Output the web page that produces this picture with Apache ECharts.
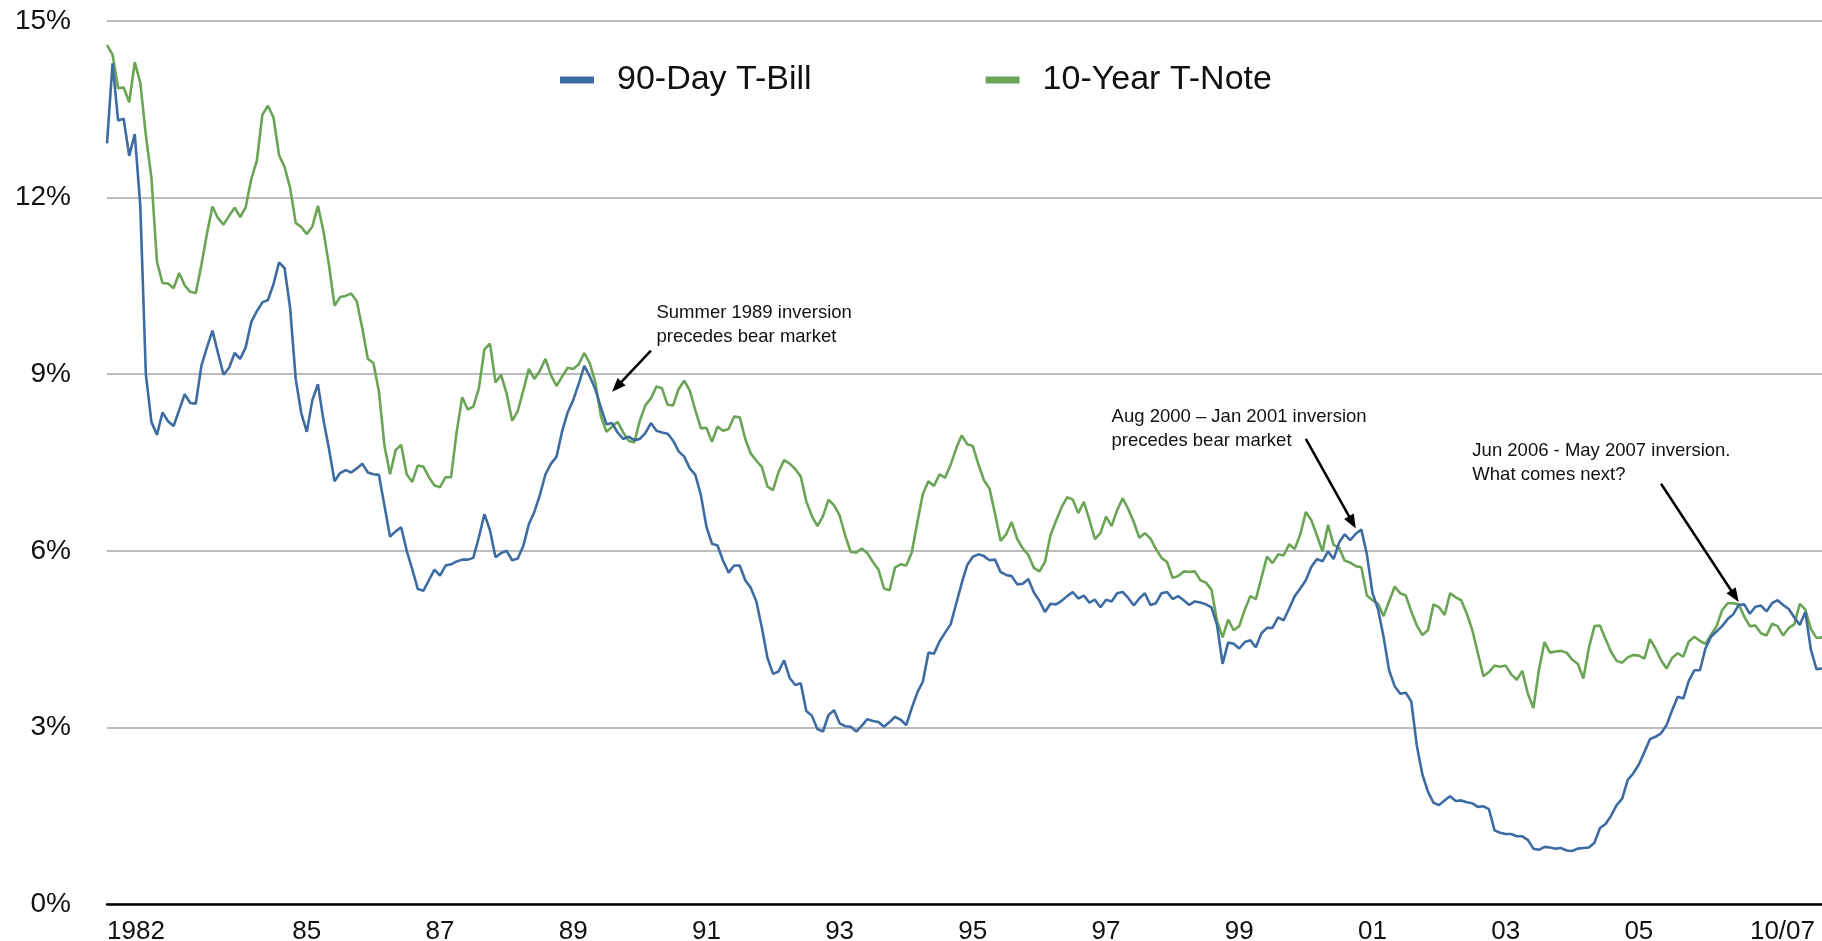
<!DOCTYPE html>
<html>
<head>
<meta charset="utf-8">
<title>90-Day T-Bill vs 10-Year T-Note</title>
<script src="https://cdn.jsdelivr.net/npm/echarts@6/dist/echarts.min.js"></script>
<style>
  html, body { margin: 0; padding: 0; background: #fff; }
  #chart { width: 1822px; height: 941px; }
</style>
</head>
<body>
<div id="chart"></div>
<script>
// monthly points, Jan 1982 .. Oct 2007
const months = []
for (let y = 1982; y <= 2007; y++) {
  for (let m = 1; m <= 12; m++) {
    if (y === 2007 && m > 10) break
    months.push(y + '-' + (m < 10 ? '0' + m : m))
  }
}

// 90-day T-bill, % (one row per year)
const tbill = [
  12.92, 14.28, 13.31, 13.34, 12.71, 13.08, 11.86, 9.00, 8.19, 7.97, 8.35, 8.20,
  8.12, 8.39, 8.66, 8.51, 8.50, 9.14, 9.45, 9.74, 9.36, 8.99, 9.11, 9.36,
  9.26, 9.46, 9.89, 10.07, 10.22, 10.26, 10.53, 10.90, 10.80, 10.12, 8.92, 8.34,
  8.02, 8.56, 8.83, 8.22, 7.73, 7.18, 7.32, 7.37, 7.33, 7.40, 7.48, 7.33,
  7.30, 7.29, 6.76, 6.24, 6.33, 6.40, 6.00, 5.69, 5.35, 5.32, 5.50, 5.68,
  5.58, 5.75, 5.77, 5.82, 5.85, 5.85, 5.88, 6.23, 6.62, 6.35, 5.89, 5.96,
  6.00, 5.84, 5.87, 6.08, 6.45, 6.66, 6.95, 7.30, 7.48, 7.60, 8.03, 8.35,
  8.56, 8.84, 9.14, 8.96, 8.74, 8.43, 8.15, 8.17, 8.01, 7.90, 7.94, 7.88,
  7.90, 8.00, 8.17, 8.04, 8.01, 7.99, 7.87, 7.69, 7.60, 7.40, 7.29, 6.95,
  6.41, 6.12, 6.09, 5.83, 5.63, 5.75, 5.75, 5.50, 5.37, 5.14, 4.69, 4.18,
  3.91, 3.95, 4.14, 3.84, 3.72, 3.75, 3.28, 3.20, 2.97, 2.93, 3.21, 3.29,
  3.07, 3.02, 3.01, 2.93, 3.03, 3.14, 3.11, 3.09, 3.01, 3.09, 3.18, 3.13,
  3.04, 3.33, 3.59, 3.78, 4.27, 4.25, 4.46, 4.61, 4.75, 5.10, 5.45, 5.76,
  5.90, 5.94, 5.91, 5.84, 5.85, 5.64, 5.59, 5.57, 5.43, 5.44, 5.52, 5.29,
  5.15, 4.96, 5.10, 5.09, 5.15, 5.23, 5.30, 5.19, 5.24, 5.12, 5.17, 5.04,
  5.17, 5.14, 5.28, 5.30, 5.20, 5.07, 5.19, 5.28, 5.08, 5.11, 5.28, 5.30,
  5.18, 5.23, 5.16, 5.08, 5.14, 5.12, 5.09, 5.04, 4.74, 4.08, 4.44, 4.42,
  4.34, 4.45, 4.48, 4.36, 4.60, 4.69, 4.69, 4.87, 4.82, 5.02, 5.23, 5.36,
  5.50, 5.73, 5.86, 5.82, 5.99, 5.86, 6.14, 6.28, 6.18, 6.29, 6.36, 5.94,
  5.29, 5.01, 4.54, 3.97, 3.70, 3.57, 3.59, 3.44, 2.69, 2.20, 1.91, 1.72,
  1.68, 1.76, 1.83, 1.75, 1.76, 1.73, 1.71, 1.65, 1.66, 1.61, 1.25, 1.21,
  1.19, 1.19, 1.15, 1.15, 1.09, 0.94, 0.92, 0.97, 0.96, 0.94, 0.95, 0.91,
  0.90, 0.94, 0.95, 0.96, 1.04, 1.29, 1.36, 1.50, 1.68, 1.79, 2.11, 2.22,
  2.37, 2.58, 2.80, 2.84, 2.90, 3.04, 3.29, 3.52, 3.49, 3.79, 3.97, 3.97,
  4.34, 4.54, 4.63, 4.72, 4.84, 4.92, 5.08, 5.09, 4.93, 5.05, 5.07, 4.97,
  5.11, 5.16, 5.08, 5.01, 4.87, 4.74, 4.96, 4.32, 3.99, 4.00
]

// 10-year T-note, %
const tnote = [
  14.59, 14.43, 13.86, 13.87, 13.62, 14.30, 13.95, 13.06, 12.34, 10.91, 10.55, 10.54,
  10.46, 10.72, 10.51, 10.40, 10.38, 10.85, 11.38, 11.85, 11.65, 11.54, 11.69, 11.83,
  11.67, 11.84, 12.32, 12.63, 13.41, 13.56, 13.36, 12.72, 12.52, 12.16, 11.57, 11.50,
  11.38, 11.51, 11.86, 11.43, 10.85, 10.16, 10.31, 10.33, 10.37, 10.24, 9.78, 9.26,
  9.19, 8.70, 7.78, 7.30, 7.71, 7.80, 7.30, 7.17, 7.45, 7.43, 7.25, 7.11,
  7.08, 7.25, 7.25, 8.02, 8.61, 8.40, 8.45, 8.76, 9.42, 9.52, 8.86, 8.99,
  8.67, 8.21, 8.37, 8.72, 9.09, 8.92, 9.06, 9.26, 8.98, 8.80, 8.96, 9.11,
  9.09, 9.17, 9.36, 9.18, 8.86, 8.28, 8.02, 8.11, 8.19, 8.01, 7.87, 7.84,
  8.21, 8.47, 8.59, 8.79, 8.76, 8.48, 8.47, 8.75, 8.89, 8.72, 8.39, 8.08,
  8.09, 7.85, 8.11, 8.04, 8.07, 8.28, 8.27, 7.90, 7.65, 7.53, 7.42, 7.09,
  7.03, 7.34, 7.54, 7.48, 7.39, 7.26, 6.84, 6.59, 6.42, 6.59, 6.87, 6.77,
  6.60, 6.26, 5.98, 5.97, 6.04, 5.96, 5.81, 5.68, 5.36, 5.33, 5.72, 5.77,
  5.75, 5.97, 6.48, 6.97, 7.18, 7.10, 7.30, 7.24, 7.46, 7.74, 7.96, 7.81,
  7.78, 7.47, 7.20, 7.06, 6.63, 6.17, 6.28, 6.49, 6.20, 6.04, 5.93, 5.71,
  5.65, 5.81, 6.27, 6.51, 6.74, 6.91, 6.87, 6.64, 6.83, 6.53, 6.20, 6.30,
  6.58, 6.42, 6.69, 6.89, 6.71, 6.49, 6.22, 6.30, 6.21, 6.03, 5.88, 5.81,
  5.54, 5.57, 5.65, 5.64, 5.65, 5.50, 5.46, 5.34, 4.81, 4.53, 4.83, 4.65,
  4.72, 5.00, 5.23, 5.18, 5.54, 5.90, 5.79, 5.94, 5.92, 6.11, 6.03, 6.28,
  6.66, 6.52, 6.26, 5.99, 6.44, 6.10, 6.05, 5.83, 5.80, 5.74, 5.72, 5.24,
  5.16, 5.10, 4.89, 5.14, 5.39, 5.28, 5.24, 4.97, 4.73, 4.57, 4.65, 5.09,
  5.04, 4.91, 5.28, 5.21, 5.16, 4.93, 4.65, 4.26, 3.87, 3.94, 4.05, 4.03,
  4.05, 3.90, 3.81, 3.96, 3.57, 3.33, 3.98, 4.45, 4.27, 4.29, 4.30, 4.27,
  4.15, 4.08, 3.83, 4.35, 4.72, 4.73, 4.50, 4.28, 4.13, 4.10, 4.19, 4.23,
  4.22, 4.17, 4.50, 4.34, 4.14, 4.00, 4.18, 4.26, 4.20, 4.46, 4.54, 4.47,
  4.42, 4.57, 4.72, 4.99, 5.11, 5.11, 5.09, 4.88, 4.72, 4.73, 4.60, 4.56,
  4.76, 4.72, 4.56, 4.69, 4.75, 5.10, 5.00, 4.67, 4.52, 4.53
]

// x tick labels
const tickMonths = ['1982-01', '1985-01', '1987-01', '1989-01', '1991-01', '1993-01', '1995-01',
  '1997-01', '1999-01', '2001-01', '2003-01', '2005-01', '2007-10']
const tickLabels = ['1982', '85', '87', '89', '91', '93', '95', '97', '99', '01', '03', '05', '10/07']

// callouts: text anchor, arrow tail, arrow head (month, %)
const notes = [
  {text: 'Summer 1989 inversion\nprecedes bear market', at: ['1990-04', 10.04], tail: ['1990-03', 9.40], head: ['1989-08', 8.70]},
  {text: 'Aug 2000 \u2013 Jan 2001 inversion\nprecedes bear market', at: ['1997-02', 8.27], tail: ['2000-01', 7.90], head: ['2000-10', 6.38]},
  {text: 'Jun 2006 - May 2007 inversion.\nWhat comes next?', at: ['2002-07', 7.70], tail: ['2005-05', 7.14], head: ['2006-07', 5.13]}
]

const FONT = "'Liberation Sans', Arial, Helvetica, sans-serif"
const BLUE = '#3d6ca2'
const GREEN = '#6aa556'

const chart = echarts.init(document.getElementById('chart'))

chart.setOption({
  animation: false,
  backgroundColor: '#fff',
  grid: {left: 107, right: 0, top: 21, bottom: 37, outerBoundsMode: 'none'},
  legend: {
    data: ['90-Day T-Bill', '10-Year T-Note'],
    left: 555,
    top: 58,
    icon: 'rect',
    itemWidth: 34,
    itemHeight: 7,
    itemGap: 174,
    textStyle: {fontSize: 34, color: '#111', fontFamily: FONT, padding: [0, 0, 0, 18]}
  },
  xAxis: {
    type: 'category',
    data: months,
    boundaryGap: false,
    axisLine: {lineStyle: {color: '#000', width: 2.5}},
    axisTick: {show: false},
    splitLine: {show: false},
    axisLabel: {
      interval: (i, v) => tickMonths.indexOf(v) >= 0,
      formatter: v => {
        const i = tickMonths.indexOf(v)
        if (i < 0) return ''
        // last label sits a little in from the edge
        return i === tickMonths.length - 1 ? '{last|' + tickLabels[i] + '}' : tickLabels[i]
      },
      rich: {last: {fontSize: 26, fontFamily: FONT, color: '#111', padding: [0, 7, 0, 0]}},
      alignMinLabel: 'left',
      alignMaxLabel: 'right',
      fontSize: 26,
      fontFamily: FONT,
      color: '#111',
      margin: 15
    }
  },
  yAxis: {
    type: 'value',
    min: 0,
    max: 15,
    interval: 3,
    axisLine: {show: false},
    axisTick: {show: false},
    splitLine: {lineStyle: {color: '#bcbcbc', width: 2}},
    axisLabel: {formatter: '{value}%', fontSize: 28, fontFamily: FONT, color: '#111', margin: 36}
  },
  series: [
    {
      name: '10-Year T-Note',
      type: 'line',
      data: tnote,
      showSymbol: false,
      z: 2,
      itemStyle: {color: GREEN},
      lineStyle: {color: GREEN, width: 2.6}
    },
    {
      name: '90-Day T-Bill',
      type: 'line',
      data: tbill,
      showSymbol: false,
      z: 3,
      itemStyle: {color: BLUE},
      lineStyle: {color: BLUE, width: 2.6}
    }
  ]
})

// callouts, placed from data coords
const px = p => chart.convertToPixel({xAxisIndex: 0, yAxisIndex: 0}, p)
const elements = []
notes.forEach(n => {
  const t = px(n.at)
  const p0 = px(n.tail)
  const p1 = px(n.head)
  elements.push({
    type: 'text',
    x: t[0], y: t[1] - 12,
    z: 10,
    style: {text: n.text, font: '18.5px ' + FONT, lineHeight: 24, fill: '#111', verticalAlign: 'top'}
  })
  const dx = p1[0] - p0[0], dy = p1[1] - p0[1]
  const len = Math.hypot(dx, dy)
  const ux = dx / len, uy = dy / len
  const hl = 14, hw = 5.5
  const bx = p1[0] - ux * hl, by = p1[1] - uy * hl
  elements.push({
    type: 'line', z: 10,
    shape: {x1: p0[0], y1: p0[1], x2: bx + ux * 2, y2: by + uy * 2},
    style: {stroke: '#000', lineWidth: 2.5}
  })
  elements.push({
    type: 'polygon', z: 10,
    shape: {points: [[p1[0], p1[1]], [bx - uy * hw, by + ux * hw], [bx + uy * hw, by - ux * hw]]},
    style: {fill: '#000'}
  })
})
chart.setOption({graphic: {elements: elements}})
</script>
</body>
</html>
